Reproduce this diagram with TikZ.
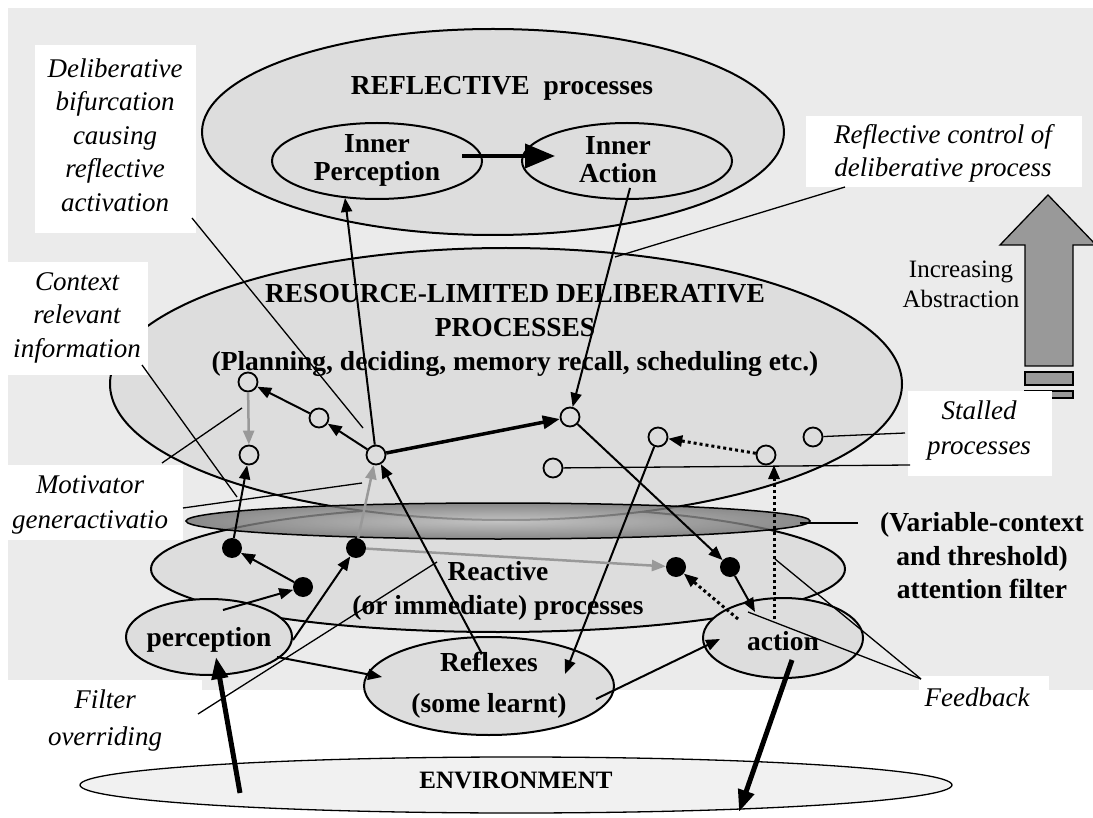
\documentclass[tikz,border=0pt]{standalone}
\usepackage{fontspec}
\setmainfont{Liberation Serif}
\usetikzlibrary{shapes.geometric,arrows.meta}
\definecolor{bggray}{gray}{0.92}
\definecolor{ellfill}{gray}{0.865}
\definecolor{envfill}{gray}{0.945}
\definecolor{linkgray}{gray}{0.6}
\definecolor{abstrgray}{gray}{0.6}
\definecolor{filtin}{gray}{0.74}
\definecolor{filtout}{gray}{0.45}
\begin{document}
\begin{tikzpicture}[x=1pt,y=-1pt,
  ell/.style={ellipse, draw, line width=2pt, fill=ellfill, inner sep=0pt},
  bft/.style={font=\bfseries\fontsize{27.5}{34}\selectfont, align=center, inner sep=0pt},
  itt/.style={font=\itshape\fontsize{27}{33.5}\selectfont, align=center, inner sep=0pt},
  rmt/.style={font=\fontsize{25}{30}\selectfont, align=center, inner sep=0pt},
  whitebox/.style={fill=white, inner sep=0pt},
  opn/.style={circle, draw, line width=1.8pt, minimum size=19pt, inner sep=0pt},
  blk/.style={circle, fill=black, minimum size=20pt, inner sep=0pt},
  arr/.style={-{Triangle[length=14pt,width=11pt]}, line width=2pt},
  garr/.style={arr, draw=linkgray, line width=2.5pt},
  tarr/.style={-{Triangle[length=17pt,width=13pt]}, line width=3.5pt},
  earr/.style={-{Triangle[length=22pt,width=16pt]}, line width=5pt},
  iarr/.style={-{Triangle[length=30pt,width=24pt]}, line width=4pt},
  darr/.style={arr, line width=3pt, dash pattern=on 3pt off 3pt},
  lead/.style={line width=1.3pt}
]

\useasboundingbox (0,0) rectangle (1093,818);
\fill[white] (0,0) rectangle (1093,818);
\fill[bggray] (8,8) rectangle (1093,690);

% layers of processing
\node[ell, minimum width=582pt, minimum height=206pt] (refl) at (493,132) {};
\node[ell, minimum width=210pt, minimum height=76pt] (inP) at (377,161) {};
\node[ell, minimum width=210pt, minimum height=76pt] (inA) at (627,161) {};
\node[ell, minimum width=694pt, minimum height=126pt] (react) at (498,569) {};
\node[ell, minimum width=792pt, minimum height=272pt] (delib) at (506,384) {};
\node[ellipse, draw, line width=1.5pt, inner sep=0pt, minimum width=624pt, minimum height=36pt,
      inner color=filtin, outer color=filtout, fill opacity=0.8] (filt) at (498,521) {};
\node[ell, minimum width=166pt, minimum height=76pt] (perc) at (209,637) {};
\node[ell, minimum width=160pt, minimum height=80pt] (act) at (783,638) {};
\node[ell, minimum width=250pt, minimum height=98pt] (refx) at (489,686) {};
\node[ellipse, draw, line width=1.3pt, fill=envfill, inner sep=0pt,
      minimum width=872pt, minimum height=56pt] (env) at (516,785) {};

% abstraction arrow
\filldraw[fill=abstrgray, line width=1.3pt] (1048,195) -- (1096,245) -- (1073,245) -- (1073,366)
  -- (1025,366) -- (1025,245) -- (1000,245) -- cycle;
\filldraw[fill=abstrgray, line width=1.3pt] (1025,372) rectangle (1073,385);
\filldraw[fill=abstrgray, line width=1.3pt] (1025,391) rectangle (1073,398);

% white label panels
\node[whitebox, minimum width=161pt, minimum height=188pt] (bxBif) at (115.5,139) {};
\node[whitebox, minimum width=140pt, minimum height=113pt] (bxCtx) at (78,318.5) {};
\node[whitebox, minimum width=183pt, minimum height=75pt] (bxMot) at (91.5,502.5) {};
\node[whitebox, minimum width=202pt, minimum height=80pt] (bxFil) at (101,720) {};
\node[whitebox, minimum width=276pt, minimum height=71pt] (bxRef) at (944,151.5) {};
\node[whitebox, minimum width=144pt, minimum height=85pt] (bxSta) at (980,433.5) {};
\node[whitebox, minimum width=130pt, minimum height=46pt] (bxFee) at (984,699) {};

% texts
\node[bft] (tRefl) at (502,88) {REFLECTIVE~~processes};
\node[bft, font=\bfseries\fontsize{27.5}{28}\selectfont] (tInP) at (377,160) {Inner\\Perception};
\node[bft, font=\bfseries\fontsize{27.5}{28}\selectfont] (tInA) at (618,160) {Inner\\Action};
\node[bft] (tDelib) at (515,330) {RESOURCE-LIMITED DELIBERATIVE\\PROCESSES\\(Planning, deciding, memory recall, scheduling etc.)};
\node[bft] (tReact) at (498,591) {Reactive\\(or immediate) processes};
\node[bft] (tPerc) at (209,640) {perception};
\node[bft, font=\bfseries\fontsize{27.5}{41}\selectfont] (tRefx) at (489,685) {Reflexes\\(some learnt)};
\node[bft] (tAct) at (783,641) {action};
\node[bft, font=\bfseries\fontsize{25}{30}\selectfont] (tEnv) at (516,780) {ENVIRONMENT};
\node[bft, font=\bfseries\fontsize{27.5}{33.5}\selectfont] (tFilt) at (982,556) {(Variable-context\\and threshold)\\attention filter};
\node[rmt] (tAbs) at (961,284) {Increasing\\Abstraction};
\node[itt] (tBif) at (115,135) {Deliberative\\bifurcation\\causing\\reflective\\activation};
\node[itt] (tCtx) at (77,317.5) {Context\\relevant\\information};
\node[itt, font=\itshape\fontsize{27}{35}\selectfont] (tMot) at (90,504.5) {Motivator\\generactivatio};
\node[itt, font=\itshape\fontsize{27}{37}\selectfont] (tFil) at (105,721) {Filter\\overriding};
\node[itt] (tRef) at (943,153.5) {Reflective control of\\deliberative process};
\node[itt, font=\itshape\fontsize{27}{35}\selectfont] (tSta) at (979,430.5) {Stalled\\processes};
\node[itt] (tFee) at (977,697) {Feedback};

% deliberative processes (open) and reactive states (filled)
\node[opn] (dA) at (570,417) {};
\node[opn] (dB) at (376,455) {};
\node[opn] (dC) at (319,418) {};
\node[opn] (dD) at (248,382) {};
\node[opn] (dE) at (249,455) {};
\node[opn] (dF) at (553,468) {};
\node[opn] (dG) at (658,437) {};
\node[opn] (dH) at (766,455) {};
\node[opn] (dI) at (813,437) {};
\node[blk] (rA) at (232,548) {};
\node[blk] (rB) at (303,587) {};
\node[blk] (rC) at (356,548) {};
\node[blk] (rD) at (676,567) {};
\node[blk] (rE) at (730,567) {};

% free ends of connectors
\coordinate (ipOut) at (462,156);
\coordinate (iaIn) at (555,156);
\coordinate (iaOut) at (630,188);
\coordinate (ipIn) at (345,198);
\coordinate (rfxIn1) at (565,674);
\coordinate (actOut1) at (774,619);
\coordinate (dHfoot) at (774,465);
\coordinate (actOut2) at (738,619);
\coordinate (actIn1) at (755,612);
\coordinate (percOut1) at (223,610);
\coordinate (percOut2) at (293,640);
\coordinate (rfxOut1) at (482,654);
\coordinate (percOut3) at (277,657);
\coordinate (rfxIn2) at (382,677);
\coordinate (rfxOut2) at (596,699);
\coordinate (actIn2) at (720,639);
\coordinate (envOut) at (240,793);
\coordinate (percIn) at (216,657);
\coordinate (actOut3) at (792,660);
\coordinate (envIn) at (739,812);

\coordinate (bifA) at (192,218);  \coordinate (bifB) at (363,428);
\coordinate (ctxA) at (142,365);  \coordinate (ctxB) at (237,497);
\coordinate (motA) at (162,463);  \coordinate (motB) at (242,408);
\coordinate (motC) at (183,508);  \coordinate (motD) at (362,483);
\coordinate (filA) at (198,714);  \coordinate (filB) at (437,562);
\coordinate (refA) at (845,187);  \coordinate (refB) at (615,257);
\coordinate (staA) at (905,433);  \coordinate (staB) at (910,465);
\coordinate (fltA) at (800,523);  \coordinate (fltB) at (858,523);
\coordinate (feeA) at (921,679);  \coordinate (feeB) at (775,559);
\coordinate (feeC) at (748,612);

% flows
\draw[iarr] (ipOut) -- (iaIn);
\draw[arr] (iaOut) -- (dA);
\draw[arr] (dB) -- (ipIn);
\draw[arr] (dB) -- (dC);
\draw[arr] (dC) -- (dD);
\draw[garr] (dD) -- (dE);
\draw[tarr] (dB) -- (dA);
\draw[arr] (dA) -- (rE);
\draw[arr] (dG) -- (rfxIn1);
\draw[darr] (dH) -- (dG);
\draw[darr] (actOut1) -- (dHfoot);
\draw[darr] (actOut2) -- (rD);
\draw[arr] (rE) -- (actIn1);
\draw[garr] (rC) -- (rD);
\draw[garr] (rC) -- (dB);
\draw[arr] (rA) -- (dE);
\draw[arr] (rB) -- (rA);
\draw[arr] (percOut1) -- (rB);
\draw[arr] (percOut2) -- (rC);
\draw[arr] (rfxOut1) -- (dB);
\draw[arr] (percOut3) -- (rfxIn2);
\draw[arr] (rfxOut2) -- (actIn2);
\draw[earr] (envOut) -- (percIn);
\draw[earr] (actOut3) -- (envIn);

% label leaders
\draw[lead] (bifA) -- (bifB);
\draw[lead] (ctxA) -- (ctxB);
\draw[lead] (motA) -- (motB);
\draw[lead] (motC) -- (motD);
\draw[lead] (filA) -- (filB);
\draw[lead] (refA) -- (refB);
\draw[lead] (dI) -- (staA);
\draw[lead] (dF) -- (staB);
\draw[lead] (fltA) -- (fltB);
\draw[lead] (feeA) -- (feeB);
\draw[lead] (feeA) -- (feeC);
\end{tikzpicture}
\end{document}
